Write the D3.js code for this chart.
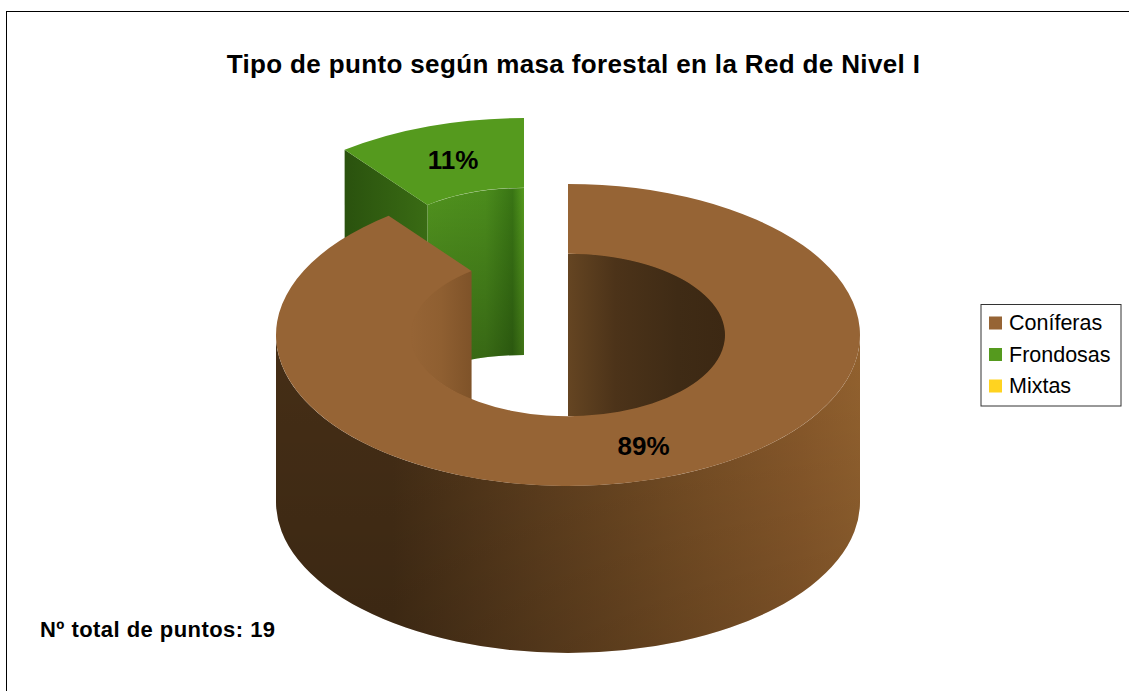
<!DOCTYPE html>
<html><head><meta charset="utf-8">
<script src="https://cdn.jsdelivr.net/npm/d3@7"></script>
<style>html,body{margin:0;padding:0;background:#fff}svg{display:block}text{font-family:"Liberation Sans",Arial,sans-serif}</style>
</head><body><svg id="c" width="1129" height="691"></svg>
<script>
const categories=["Coníferas","Frondosas","Mixtas"];
const values=[17,2,0];
const labels=["89%","11%",""];
const colors=["#966435","#559a1e","#ffd320"];
const title="Tipo de punto según masa forestal en la Red de Nivel I";
const note="Nº total de puntos: 19";

const svg=d3.select("#c");
const W=1129,H=691;
const cx=568,cy=335,rx=292,ry=151,irx=157,iry=81,depth=167;
const gx=524,gy=269; // exploded slice centre
const defs=svg.append("defs");
function grad(id,x1,x2,stops){
  const g=defs.append("linearGradient").attr("id",id).attr("gradientUnits","userSpaceOnUse")
    .attr("x1",x1).attr("x2",x2).attr("y1",0).attr("y2",0);
  stops.forEach(s=>g.append("stop").attr("offset",s[0]).attr("stop-color",s[1]));
}
grad("outer",276,860,[[0,"#452e16"],[0.2,"#452e16"],[0.45,"#5f3f1e"],[0.7,"#784f25"],[0.9,"#8a5a2b"],[1,"#93622f"]]);
grad("holeR",568,725,[[0,"#654522"],[0.3,"#4c3319"],[0.7,"#3f2b15"],[1,"#3c2813"]]);
grad("holeL",411,471,[[0,"#966435"],[0.5,"#8f5f31"],[1,"#7f5329"]]);
grad("gWall",428,524,[[0,"#50921e"],[0.6,"#4b8c1c"],[0.88,"#397514"],[1,"#559a1e"]]);
grad("gSide",345,430,[[0,"#2a520e"],[1,"#3a6c14"]]);
function shade(id,op){
  const vg=defs.append("linearGradient").attr("id",id).attr("x1",0).attr("x2",0).attr("y1",0).attr("y2",1);
  vg.append("stop").attr("offset",0).attr("stop-color","#000").attr("stop-opacity",0);
  vg.append("stop").attr("offset",1).attr("stop-color","#000").attr("stop-opacity",op);
}
shade("shade",0.15);
shade("shadeG",0.28);

svg.append("rect").attr("x",6.5).attr("y",11.5).attr("width",W).attr("height",H).attr("fill","#fff").attr("stroke","#000");

// slices: start at 12 o'clock, clockwise
const pie=d3.pie().sort(null).value(d=>d);
const arcs=pie(values);
const arc=d3.arc().innerRadius(irx).outerRadius(rx);
const pt=(r,ry_,a,X,Y)=>[X+r*Math.sin(a),Y-ry_*Math.cos(a)];

// --- green slice
const g=arcs[1];
const o0=pt(rx,ry,g.startAngle,gx,gy), i0=pt(irx,iry,g.startAngle,gx,gy);
const iTop=[gx,gy-iry];
svg.append("path").attr("fill","url(#gSide)")
 .attr("d",`M${o0}L${i0}L${i0[0]},${i0[1]+depth}L${o0[0]},${o0[1]+depth}Z`);
const gw=`M${i0}A${irx},${iry} 0 0 1 ${iTop}L${iTop[0]},${iTop[1]+depth}A${irx},${iry} 0 0 0 ${i0[0]},${i0[1]+depth}Z`;
svg.append("path").attr("fill","url(#gWall)").attr("d",gw);
svg.append("path").attr("fill","url(#shadeG)").attr("d",gw);
svg.append("path").attr("fill",colors[1])
 .attr("transform",`translate(${gx},${gy}) scale(1,${ry/rx})`)
 .attr("d",arc({startAngle:g.startAngle-2*Math.PI,endAngle:0}));

// --- main slice
const m=arcs[0];
const holeClip=defs.append("clipPath").attr("id","hole");
holeClip.append("ellipse").attr("cx",cx).attr("cy",cy).attr("rx",irx+1).attr("ry",iry+1);
const hole=svg.append("g").attr("clip-path","url(#hole)");
hole.append("rect").attr("x",cx).attr("y",cy-iry).attr("width",irx+1).attr("height",2*iry).attr("fill","url(#holeR)");
const e=pt(irx,iry,m.endAngle,cx,cy);
hole.append("rect").attr("x",cx-irx-1).attr("y",e[1]).attr("width",e[0]-cx+irx+1).attr("height",cy+iry-e[1]).attr("fill","url(#holeL)");

const wall=`M${cx+rx},${cy}A${rx},${ry} 0 0 1 ${cx-rx},${cy}L${cx-rx},${cy+depth}A${rx},${ry} 0 0 0 ${cx+rx},${cy+depth}Z`;
svg.append("path").attr("fill","url(#outer)").attr("d",wall);
svg.append("path").attr("fill","url(#shade)").attr("d",wall);
svg.append("path").attr("fill",colors[0])
 .attr("transform",`translate(${cx},${cy}) scale(1,${ry/rx})`)
 .attr("d",arc({startAngle:m.startAngle,endAngle:m.endAngle}));

// --- texts
const t=(x,y,s,size,opt={})=>svg.append("text").attr("x",x).attr("y",y).text(s).attr("font-size",size)
  .attr("font-weight",opt.b?"bold":"normal").attr("text-anchor",opt.a||"start").attr("fill","#000")
  .attr("letter-spacing",opt.ls||0);
t(573.5,73,title,26,{b:1,a:"middle",ls:0.36});
t(643.5,455,labels[0],26,{b:1,a:"middle"});
t(453,169,labels[1],26,{b:1,a:"middle"});
t(40,637,note,22,{b:1,ls:0.45});

// --- legend
svg.append("rect").attr("x",981).attr("y",304.5).attr("width",140).attr("height",101.5).attr("fill","#fff").attr("stroke","#333").attr("stroke-width",1);
const ly=d3.scalePoint().domain(categories).range([323,386]);
categories.forEach((c,i)=>{
  svg.append("rect").attr("x",989).attr("y",ly(c)-6.5).attr("width",13).attr("height",13).attr("fill",colors[i]);
  t(1009,ly(c)+7,c,21.5);
});
</script></body></html>
